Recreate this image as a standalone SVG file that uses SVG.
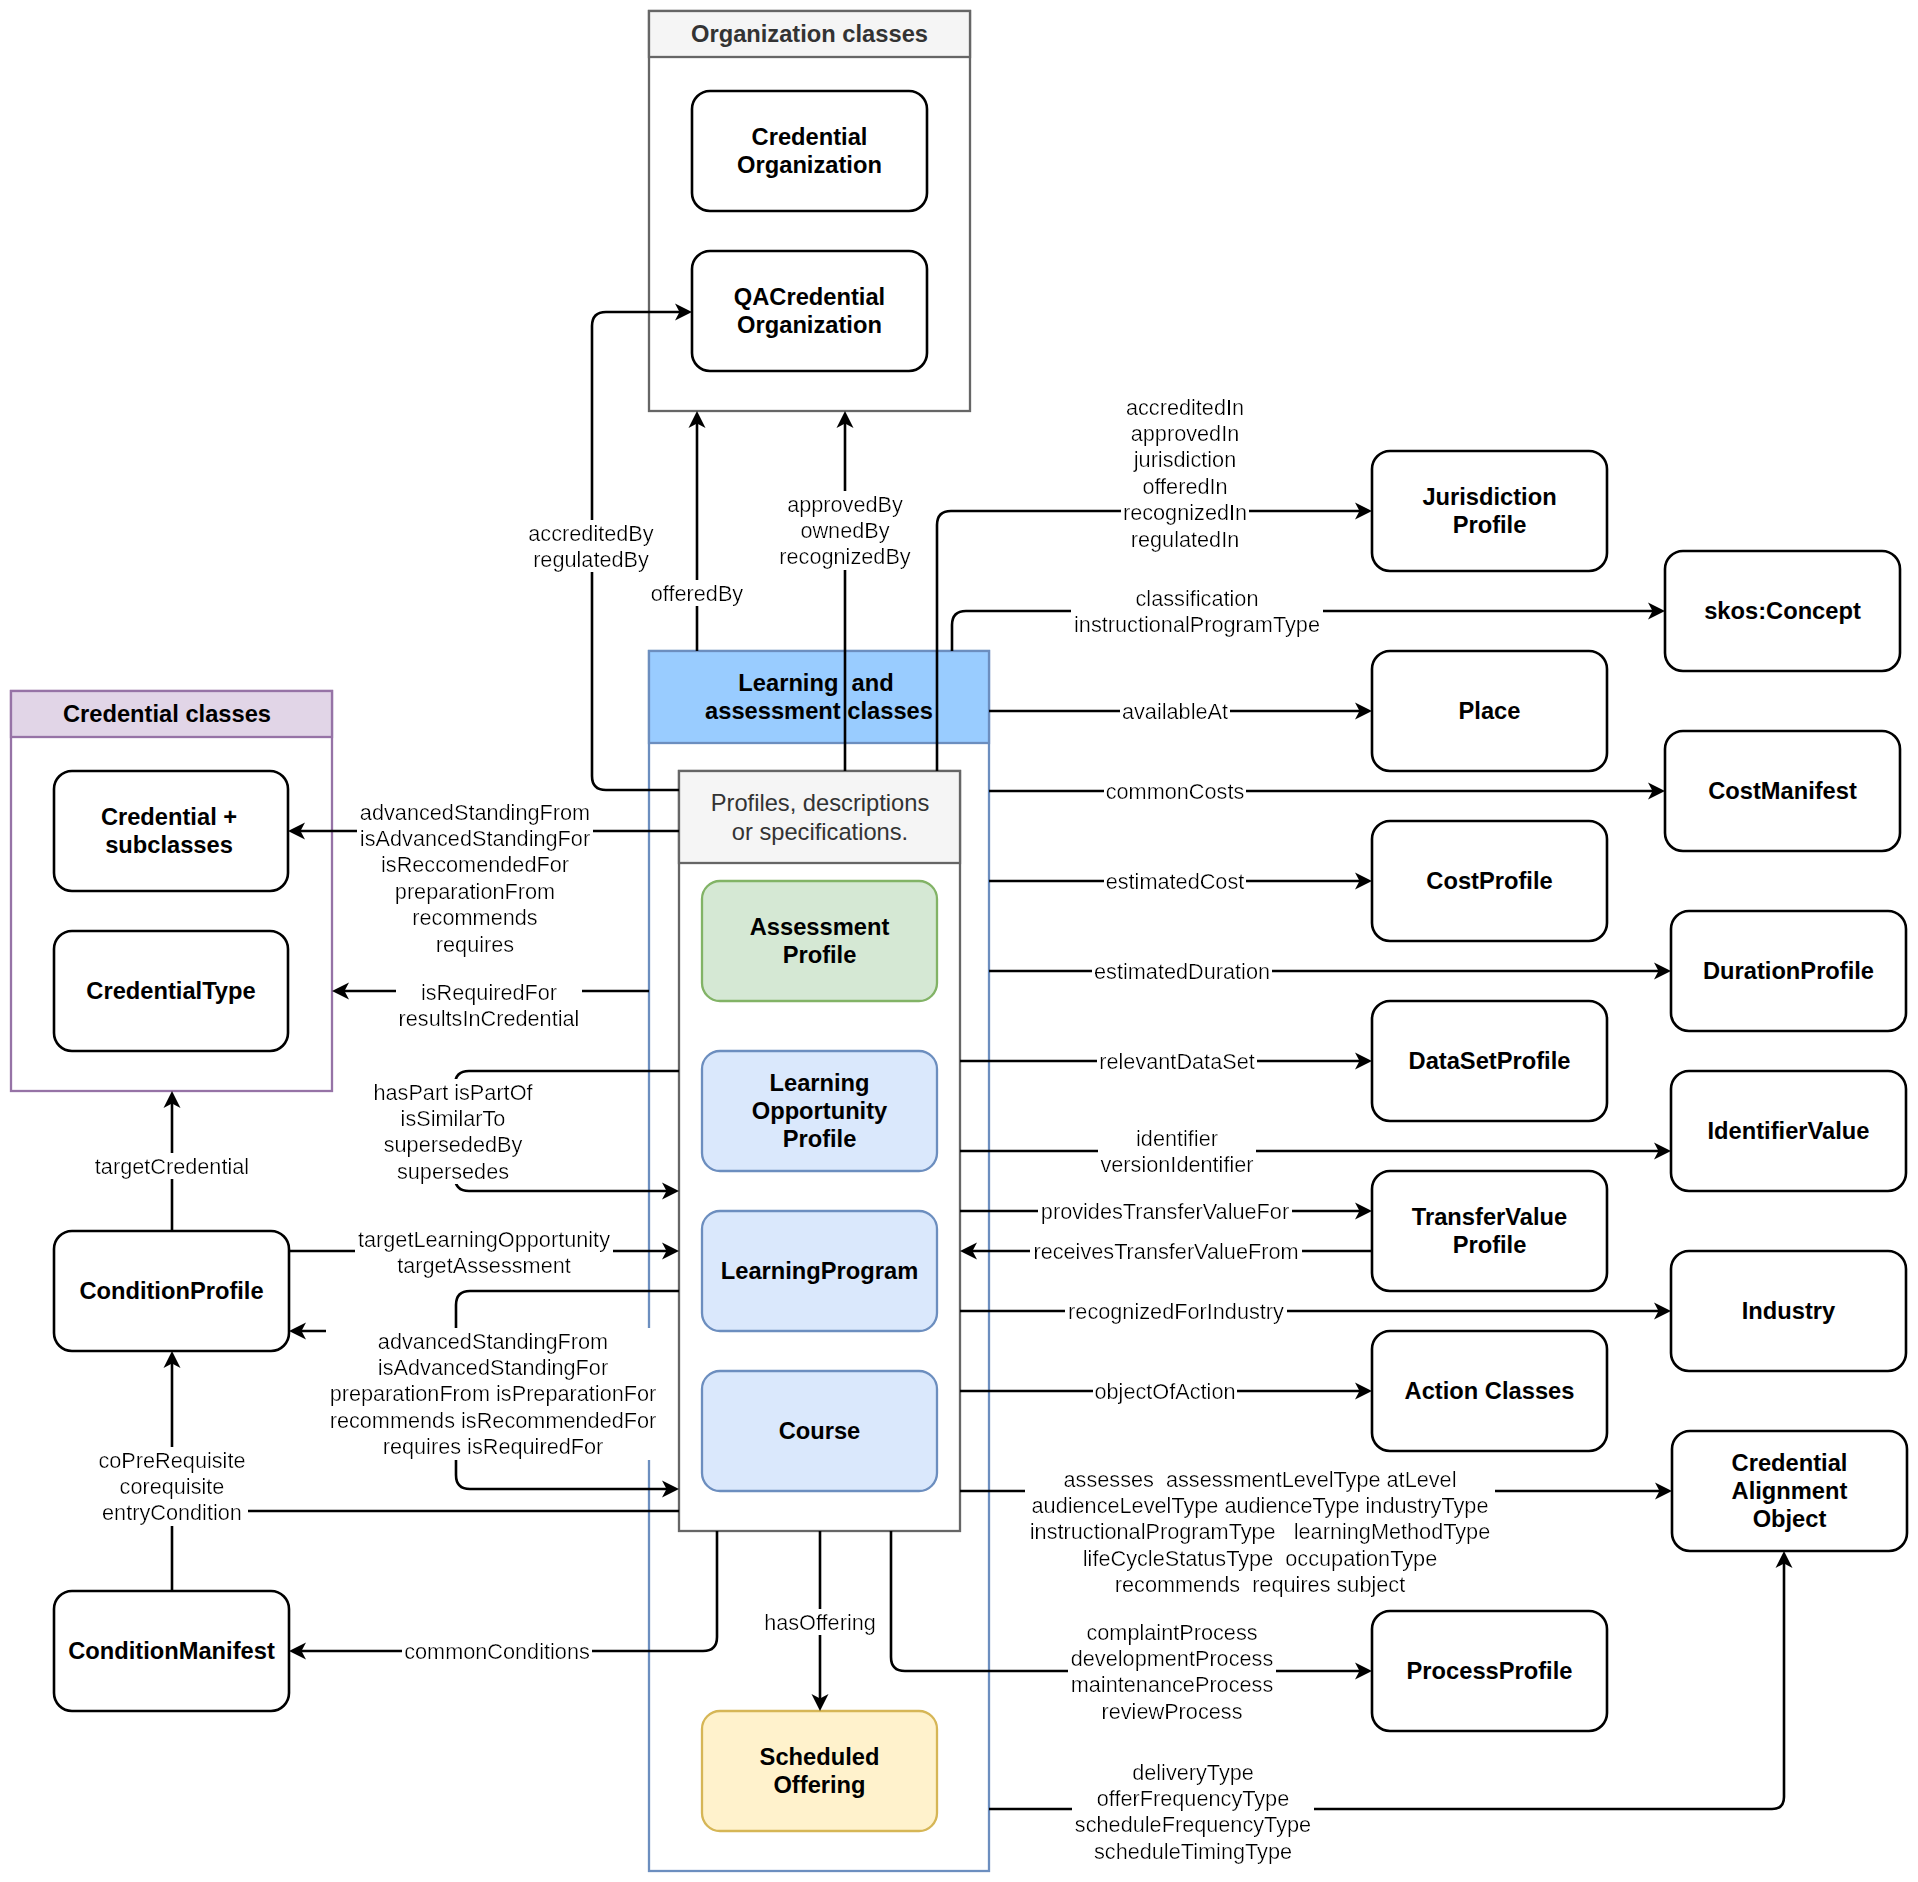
<svg xmlns="http://www.w3.org/2000/svg" width="1918" height="1882" viewBox="0 0 1918 1882">
<style>
.bgc{fill:#fff}
.n{fill:#fff;stroke:#000;stroke-width:2.6}
.t{font-family:"Liberation Sans",Arial,Helvetica,sans-serif;font-weight:bold;font-size:23.7px;text-anchor:middle;fill:#000}
.h{font-family:"Liberation Sans",Arial,Helvetica,sans-serif;font-size:23.7px;text-anchor:middle;fill:#333}
.l{font-family:"Liberation Sans",Arial,Helvetica,sans-serif;font-size:21.7px;text-anchor:middle;fill:#000;filter:url(#bg)}
.e{fill:none;stroke:#000;stroke-width:2.6;marker-end:url(#arr)}
.e0{fill:none;stroke:#000;stroke-width:2.6}
</style>
<defs>
<marker id="arr" markerUnits="userSpaceOnUse" viewBox="0 0 18 18" markerWidth="18" markerHeight="18" refX="13" refY="9" orient="auto">
<path d="M0,0.5 L17,9 L0,17.5 L4.5,9 Z" fill="#000"/>
</marker>
<filter id="bg" x="-0.01" y="0" width="1.02" height="1">
<feFlood flood-color="#ffffff" result="f"/>
<feMerge><feMergeNode in="f"/><feMergeNode in="SourceGraphic"/></feMerge>
</filter>
</defs>
<rect class="bgc" x="0" y="0" width="1918" height="1882"/>

<!-- Containers -->
<g id="org-classes">
<rect x="649" y="11" width="321" height="400" fill="#fff" stroke="#666" stroke-width="2.3"/>
<rect x="649" y="11" width="321" height="46" fill="#f5f5f5" stroke="#666" stroke-width="2.3"/>
<text class="t" x="809.5" y="42.2" style="fill:#333">Organization classes</text>
</g>
<g id="credential-classes">
<rect x="11" y="691" width="321" height="400" fill="#fff" stroke="#9673a6" stroke-width="2.3"/>
<rect x="11" y="691" width="321" height="46" fill="#e1d5e7" stroke="#9673a6" stroke-width="2.3"/>
<text class="t" x="167" y="722.2">Credential classes</text>
</g>
<g id="learning-classes">
<rect x="649" y="651" width="340" height="1220" fill="#fff" stroke="#6c8ebf" stroke-width="2.3"/>
<rect x="649" y="651" width="340" height="92" fill="#99ccff" stroke="#6c8ebf" stroke-width="2.3"/>
<text class="t" x="816" y="691.2" xml:space="preserve">Learning  and</text>
<text class="t" x="819" y="719.2">assessment classes</text>
</g>
<g id="profiles-box">
<rect x="679" y="771" width="281" height="760" fill="#fff" stroke="#666" stroke-width="2.3"/>
<rect x="679" y="771" width="281" height="92" fill="#f5f5f5" stroke="#666" stroke-width="2.3"/>
<text class="h" x="820" y="811.2">Profiles, descriptions</text>
<text class="h" x="820" y="839.7">or specifications.</text>
</g>

<!-- Nodes -->
<g id="credential-organization"><rect class="n" x="692" y="91" width="235" height="120" rx="18"/><text class="t"><tspan x="809.5" y="145.2">Credential</tspan><tspan x="809.5" y="173.2">Organization</tspan></text></g>
<g id="qacredential-organization"><rect class="n" x="692" y="251" width="235" height="120" rx="18"/><text class="t"><tspan x="809.5" y="305.2">QACredential</tspan><tspan x="809.5" y="333.2">Organization</tspan></text></g>
<g id="credential-subclasses"><rect class="n" x="54" y="771" width="234" height="120" rx="18"/><text class="t"><tspan x="169" y="825.2">Credential +</tspan><tspan x="169" y="853.2">subclasses</tspan></text></g>
<g id="credential-type"><rect class="n" x="54" y="931" width="234" height="120" rx="18"/><text class="t" x="171" y="999.2">CredentialType</text></g>
<g id="condition-profile"><rect class="n" x="54" y="1231" width="235" height="120" rx="18"/><text class="t" x="171.5" y="1299.2">ConditionProfile</text></g>
<g id="condition-manifest"><rect class="n" x="54" y="1591" width="235" height="120" rx="18"/><text class="t" x="171.5" y="1659.2">ConditionManifest</text></g>
<g id="assessment-profile"><rect x="702" y="881" width="235" height="120" rx="18" fill="#d5e8d4" stroke="#82b366" stroke-width="2.3"/><text class="t"><tspan x="819.5" y="935.2">Assessment</tspan><tspan x="819.5" y="963.2">Profile</tspan></text></g>
<g id="learning-opportunity-profile"><rect x="702" y="1051" width="235" height="120" rx="18" fill="#dae8fc" stroke="#6c8ebf" stroke-width="2.3"/><text class="t"><tspan x="819.5" y="1091.2">Learning</tspan><tspan x="819.5" y="1119.2">Opportunity</tspan><tspan x="819.5" y="1147.2">Profile</tspan></text></g>
<g id="learning-program"><rect x="702" y="1211" width="235" height="120" rx="18" fill="#dae8fc" stroke="#6c8ebf" stroke-width="2.3"/><text class="t" x="819.5" y="1279.2">LearningProgram</text></g>
<g id="course"><rect x="702" y="1371" width="235" height="120" rx="18" fill="#dae8fc" stroke="#6c8ebf" stroke-width="2.3"/><text class="t" x="819.5" y="1439.2">Course</text></g>
<g id="scheduled-offering"><rect x="702" y="1711" width="235" height="120" rx="18" fill="#fff2cc" stroke="#d6b656" stroke-width="2.3"/><text class="t"><tspan x="819.5" y="1765.2">Scheduled</tspan><tspan x="819.5" y="1793.2">Offering</tspan></text></g>
<g id="jurisdiction-profile"><rect class="n" x="1372" y="451" width="235" height="120" rx="18"/><text class="t"><tspan x="1489.5" y="505.2">Jurisdiction</tspan><tspan x="1489.5" y="533.2">Profile</tspan></text></g>
<g id="skos-concept"><rect class="n" x="1665" y="551" width="235" height="120" rx="18"/><text class="t" x="1782.5" y="619.2">skos:Concept</text></g>
<g id="place"><rect class="n" x="1372" y="651" width="235" height="120" rx="18"/><text class="t" x="1489.5" y="719.2">Place</text></g>
<g id="cost-manifest"><rect class="n" x="1665" y="731" width="235" height="120" rx="18"/><text class="t" x="1782.5" y="799.2">CostManifest</text></g>
<g id="cost-profile"><rect class="n" x="1372" y="821" width="235" height="120" rx="18"/><text class="t" x="1489.5" y="889.2">CostProfile</text></g>
<g id="duration-profile"><rect class="n" x="1671" y="911" width="235" height="120" rx="18"/><text class="t" x="1788.5" y="979.2">DurationProfile</text></g>
<g id="dataset-profile"><rect class="n" x="1372" y="1001" width="235" height="120" rx="18"/><text class="t" x="1489.5" y="1069.2">DataSetProfile</text></g>
<g id="identifier-value"><rect class="n" x="1671" y="1071" width="235" height="120" rx="18"/><text class="t" x="1788.5" y="1139.2">IdentifierValue</text></g>
<g id="transfervalue-profile"><rect class="n" x="1372" y="1171" width="235" height="120" rx="18"/><text class="t"><tspan x="1489.5" y="1225.2">TransferValue</tspan><tspan x="1489.5" y="1253.2">Profile</tspan></text></g>
<g id="industry"><rect class="n" x="1671" y="1251" width="235" height="120" rx="18"/><text class="t" x="1788.5" y="1319.2">Industry</text></g>
<g id="action-classes"><rect class="n" x="1372" y="1331" width="235" height="120" rx="18"/><text class="t" x="1489.5" y="1399.2">Action Classes</text></g>
<g id="credential-alignment-object"><rect class="n" x="1672" y="1431" width="235" height="120" rx="18"/><text class="t"><tspan x="1789.5" y="1471.2">Credential</tspan><tspan x="1789.5" y="1499.2">Alignment</tspan><tspan x="1789.5" y="1527.2">Object</tspan></text></g>
<g id="process-profile"><rect class="n" x="1372" y="1611" width="235" height="120" rx="18"/><text class="t" x="1489.5" y="1679.2">ProcessProfile</text></g>

<!-- Connectors -->
<g id="connectors">
<path class="e" d="M679,790 H606 Q592,790 592,776 V326 Q592,312 606,312 H688"/>
<path class="e" d="M697,651 V415"/>
<path class="e" d="M845,771 V415"/>
<path class="e" d="M937,771 V525 Q937,511 951,511 H1368"/>
<path class="e" d="M952,651 V625 Q952,611 966,611 H1661"/>
<path class="e" d="M989,711 H1368"/>
<path class="e" d="M989,791 H1661"/>
<path class="e" d="M989,881 H1368"/>
<path class="e" d="M989,971 H1667"/>
<path class="e" d="M960,1061 H1368"/>
<path class="e" d="M960,1151 H1667"/>
<path class="e" d="M960,1211 H1368"/>
<path class="e" d="M1372,1251 H964"/>
<path class="e" d="M960,1311 H1667"/>
<path class="e" d="M960,1391 H1368"/>
<path class="e" d="M960,1491 H1668"/>
<path class="e" d="M891,1531 V1657 Q891,1671 905,1671 H1368"/>
<path class="e" d="M989,1809 H1772 Q1784,1809 1784,1797 V1555"/>
<path class="e" d="M820,1531 V1707"/>
<path class="e" d="M717,1531 V1637 Q717,1651 703,1651 H293"/>
<path class="e" d="M679,1511 H172 V1355"/>
<path class="e0" d="M172,1591 V1511"/>
<path class="e" d="M679,1291 H470 Q456,1291 456,1305 V1331 H293"/>
<path class="e" d="M456,1331 V1475 Q456,1489 470,1489 H675"/>
<path class="e" d="M289,1251 H675"/>
<path class="e" d="M172,1231 V1095"/>
<path class="e" d="M679,1071 H469 Q455,1071 455,1085 V1177 Q455,1191 469,1191 H675"/>
<path class="e" d="M649,991 H336"/>
<path class="e" d="M679,831 H292"/>

<text class="l"><tspan x="591" y="540.5">accreditedBy</tspan><tspan x="591" y="566.9">regulatedBy</tspan></text>
<text class="l" x="697" y="600.5">offeredBy</text>
<text class="l"><tspan x="845" y="511.5">approvedBy</tspan><tspan x="845" y="537.9">ownedBy</tspan><tspan x="845" y="564.3">recognizedBy</tspan></text>
<text class="l"><tspan x="1185" y="414.5">accreditedIn</tspan><tspan x="1185" y="440.9">approvedIn</tspan><tspan x="1185" y="467.3">jurisdiction</tspan><tspan x="1185" y="493.7">offeredIn</tspan><tspan x="1185" y="520.1">recognizedIn</tspan><tspan x="1185" y="546.5">regulatedIn</tspan></text>
<text class="l"><tspan x="1197" y="605.5">classification</tspan><tspan x="1197" y="631.9">instructionalProgramType</tspan></text>
<text class="l" x="1175" y="718.5">availableAt</text>
<text class="l" x="1175" y="798.5">commonCosts</text>
<text class="l" x="1175" y="888.5">estimatedCost</text>
<text class="l" x="1182" y="978.5">estimatedDuration</text>
<text class="l" x="1177" y="1068.5">relevantDataSet</text>
<text class="l"><tspan x="1177" y="1145.5">identifier</tspan><tspan x="1177" y="1171.9">versionIdentifier</tspan></text>
<text class="l" x="1165" y="1218.5">providesTransferValueFor</text>
<text class="l" x="1166" y="1258.5">receivesTransferValueFrom</text>
<text class="l" x="1176" y="1318.5">recognizedForIndustry</text>
<text class="l" x="1165" y="1398.5">objectOfAction</text>
<text class="l" xml:space="preserve"><tspan x="1260" y="1486.5">assesses  assessmentLevelType atLevel</tspan><tspan x="1260" y="1512.9">audienceLevelType audienceType industryType</tspan><tspan x="1260" y="1539.3">instructionalProgramType   learningMethodType</tspan><tspan x="1260" y="1565.7">lifeCycleStatusType  occupationType</tspan><tspan x="1260" y="1592.1">recommends  requires subject</tspan></text>
<text class="l"><tspan x="1172" y="1639.5">complaintProcess</tspan><tspan x="1172" y="1665.9">developmentProcess</tspan><tspan x="1172" y="1692.3">maintenanceProcess</tspan><tspan x="1172" y="1718.7">reviewProcess</tspan></text>
<text class="l"><tspan x="1193" y="1779.5">deliveryType</tspan><tspan x="1193" y="1805.9">offerFrequencyType</tspan><tspan x="1193" y="1832.3">scheduleFrequencyType</tspan><tspan x="1193" y="1858.7">scheduleTimingType</tspan></text>
<text class="l" x="820" y="1629.5">hasOffering</text>
<text class="l" x="497" y="1658.5">commonConditions</text>
<text class="l"><tspan x="172" y="1467.5">coPreRequisite</tspan><tspan x="172" y="1493.9">corequisite</tspan><tspan x="172" y="1520.3">entryCondition</tspan></text>
<text class="l"><tspan x="493" y="1348.5">advancedStandingFrom</tspan><tspan x="493" y="1374.9">isAdvancedStandingFor</tspan><tspan x="493" y="1401.3">preparationFrom isPreparationFor</tspan><tspan x="493" y="1427.7">recommends isRecommendedFor</tspan><tspan x="493" y="1454.1">requires isRequiredFor</tspan></text>
<text class="l"><tspan x="484" y="1246.5">targetLearningOpportunity</tspan><tspan x="484" y="1272.9">targetAssessment</tspan></text>
<text class="l" x="172" y="1173.5">targetCredential</text>
<text class="l"><tspan x="453" y="1099.5">hasPart isPartOf</tspan><tspan x="453" y="1125.9">isSimilarTo</tspan><tspan x="453" y="1152.3">supersededBy</tspan><tspan x="453" y="1178.7">supersedes</tspan></text>
<text class="l"><tspan x="489" y="999.5">isRequiredFor</tspan><tspan x="489" y="1025.9">resultsInCredential</tspan></text>
<text class="l"><tspan x="475" y="819.5">advancedStandingFrom</tspan><tspan x="475" y="845.9">isAdvancedStandingFor</tspan><tspan x="475" y="872.3">isReccomendedFor</tspan><tspan x="475" y="898.7">preparationFrom</tspan><tspan x="475" y="925.1">recommends</tspan><tspan x="475" y="951.5">requires</tspan></text>
</g>
</svg>
